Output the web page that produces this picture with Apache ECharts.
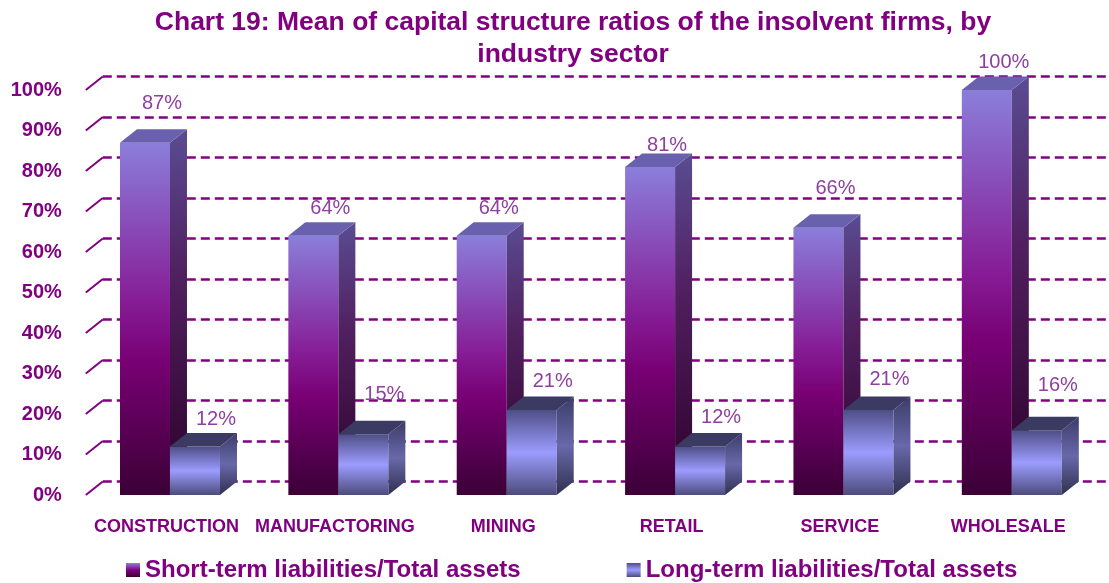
<!DOCTYPE html>
<html>
<head>
<meta charset="utf-8">
<script src="https://cdn.jsdelivr.net/npm/echarts@6/dist/echarts.min.js"></script>
<style>
  html, body { margin: 0; padding: 0; background: #ffffff; }
  #chart { width: 1109px; height: 583px; }
</style>
</head>
<body>
<div id="chart"></div>
<script>
// Industry sectors and mean ratios (fractions of total assets)
const categories = ['CONSTRUCTION', 'MANUFACTORING', 'MINING', 'RETAIL', 'SERVICE', 'WHOLESALE'];
const shortTermRatio = [0.87, 0.64, 0.64, 0.81, 0.66, 1.00];
const longTermRatio = [0.12, 0.15, 0.21, 0.12, 0.21, 0.16];
const yTicks = [0, 0.1, 0.2, 0.3, 0.4, 0.5, 0.6, 0.7, 0.8, 0.9, 1.0];
const seriesNames = ['Short-term liabilities/Total assets', 'Long-term liabilities/Total assets'];

const FONT = "'Liberation Sans', Arial, sans-serif";
const PURPLE = '#800080';
const LABEL_COLOR = '#8e3fa0';
const DX = 17;      // depth offset of the back wall / bar depth, x
const DY = -13.5;   // depth offset, y
const BAR_SHARE = 0.297; // front-face width as share of a category band

// how far each value label sits above its bar's back edge
const shortLabelLift = [26, 14, 14, 8, 26, 14];
const longLabelLift = [13, 26, 15, 15, 17, 31];

function vGrad(stops) {
  return { type: 'linear', x: 0, y: 0, x2: 0, y2: 1,
    colorStops: stops.map(([o, c]) => ({ offset: o, color: c })) };
}

const shortFaces = {
  front: vGrad([[0, '#8b7edb'], [0.45, '#861d96'], [0.62, '#780074'], [1, '#3b0036']]),
  side: vGrad([[0, '#5a4c92'], [0.4, '#50205f'], [1, '#2c0029']]),
  top: '#6a61ae'
};
const longFaces = {
  front: vGrad([[0, '#4e4e86'], [0.5, '#9c9cff'], [1, '#4c4c7c']]),
  side: vGrad([[0, '#3c3c68'], [0.5, '#6868aa'], [1, '#30304f']]),
  top: '#3a3a63'
};

function barRenderer(side, faces, lifts, labelShiftX) {
  return function (params, api) {
    const idx = api.value(0);
    const val = api.value(1);
    const base = api.coord([idx, 0]);
    const top = api.coord([idx, val]);
    const w = api.size([1, 0])[0] * BAR_SHARE;
    const x0 = side === 'left' ? base[0] - w : base[0];
    const x1 = x0 + w;
    const y0 = base[1];
    const y1 = top[1];
    return {
      type: 'group',
      children: [
        { type: 'rect', shape: { x: x0, y: y1, width: w, height: y0 - y1 },
          style: { fill: faces.front } },
        { type: 'polygon', shape: { points: [[x1, y1], [x1 + DX, y1 + DY], [x1 + DX, y0 + DY], [x1, y0]] },
          style: { fill: faces.side } },
        { type: 'polygon', shape: { points: [[x0, y1], [x0 + DX, y1 + DY], [x1 + DX, y1 + DY], [x1, y1]] },
          style: { fill: faces.top } },
        { type: 'text', style: {
            text: Math.round(val * 100) + '%',
            x: (x0 + x1) / 2 + DX + labelShiftX,
            y: y1 + DY - lifts[params.dataIndex],
            align: 'center', verticalAlign: 'middle',
            fill: LABEL_COLOR, font: '20px ' + FONT } }
      ]
    };
  };
}

// short edges of the side wall joining front ticks to back-wall gridlines
function wallEdgeRenderer(params, api) {
  const y = api.coord([0, api.value(1)])[1];
  const x = params.coordSys.x;
  return { type: 'line', shape: { x1: x, y1: y, x2: x + DX, y2: y + DY },
    style: { stroke: PURPLE, lineWidth: 2 } };
}

const chart = echarts.init(document.getElementById('chart'), null, { renderer: 'canvas' });

const frontGrid = { left: 85.8, right: 13, top: 90, bottom: 88 };
const backGrid = { left: frontGrid.left + DX, right: frontGrid.right - DX,
  top: frontGrid.top + DY, bottom: frontGrid.bottom - DY };

chart.setOption({
  backgroundColor: '#ffffff',
  animation: false,
  title: {
    text: 'Chart 19: Mean of capital structure ratios of the insolvent firms, by\nindustry sector',
    left: 568, top: 2, textAlign: 'center',
    textStyle: { fontSize: 26.5, fontWeight: 'bold', color: PURPLE, fontFamily: FONT, lineHeight: 32 }
  },
  legend: {
    left: 121, top: 553, itemWidth: 14, itemHeight: 14, itemGap: 106,
    textStyle: { fontSize: 24, fontWeight: 'bold', color: PURPLE, fontFamily: FONT },
    data: [
      { name: seriesNames[0], icon: 'rect', itemStyle: { color: vGrad([[0, '#8b7edb'], [0.5, '#800080'], [1, '#3b0036']]) } },
      { name: seriesNames[1], icon: 'rect', itemStyle: { color: vGrad([[0, '#4e4e86'], [0.5, '#9c9cff'], [1, '#4c4c7c']]) } }
    ]
  },
  grid: [
    Object.assign({ containLabel: false }, frontGrid),
    Object.assign({ containLabel: false }, backGrid)
  ],
  xAxis: [
    { type: 'category', gridIndex: 0, data: categories,
      axisLine: { show: false }, axisTick: { show: false }, splitLine: { show: false },
      axisLabel: { margin: 23, fontSize: 18, fontWeight: 'bold', color: PURPLE, fontFamily: FONT,
        interval: 0, padding: [0, 7, 0, 0] } },
    { type: 'category', gridIndex: 1, data: categories, show: false }
  ],
  yAxis: [
    { type: 'value', gridIndex: 0, min: 0, max: 1, interval: 0.1,
      axisLine: { show: false }, axisTick: { show: false }, splitLine: { show: false },
      axisLabel: { margin: 24, fontSize: 20, fontWeight: 'bold', color: PURPLE, fontFamily: FONT,
        formatter: v => Math.round(v * 100) + '%' } },
    { type: 'value', gridIndex: 1, min: 0, max: 1, interval: 0.1,
      axisLine: { show: false }, axisTick: { show: false }, axisLabel: { show: false },
      splitLine: { show: true, lineStyle: { color: PURPLE, width: 2.5, type: [9, 5] } } }
  ],
  series: [
    { type: 'custom', name: 'wall', xAxisIndex: 0, yAxisIndex: 0, silent: true,
      renderItem: wallEdgeRenderer, data: yTicks.map(t => [0, t]) },
    { type: 'custom', name: seriesNames[0], xAxisIndex: 0, yAxisIndex: 0,
      renderItem: barRenderer('left', shortFaces, shortLabelLift, 0),
      data: shortTermRatio.map((v, i) => [i, v]) },
    { type: 'custom', name: seriesNames[1], xAxisIndex: 0, yAxisIndex: 0,
      renderItem: barRenderer('right', longFaces, longLabelLift, 4),
      data: longTermRatio.map((v, i) => [i, v]) }
  ]
});
</script>
</body>
</html>
